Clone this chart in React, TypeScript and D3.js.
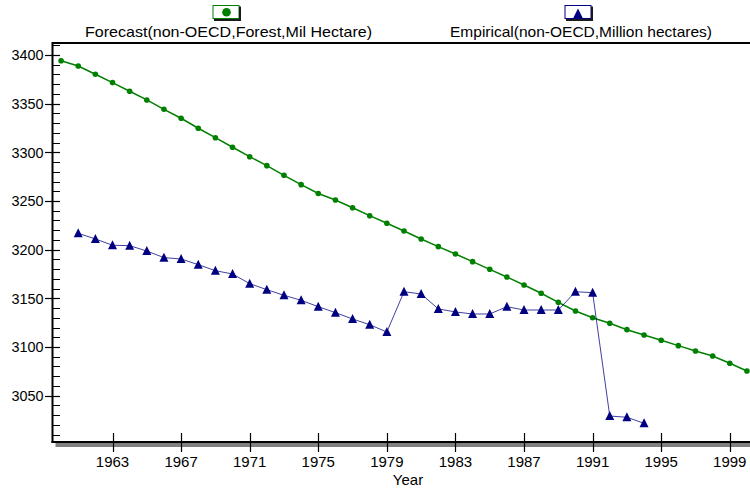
import React from "react";
import * as d3 from "d3";

const forecastYears = d3.range(1960, 2001);
const forecastValues = [
  3394.1, 3388.7, 3380.2, 3371.6, 3362.7, 3353.8, 3344.2, 3335.0, 3324.7, 3315.0,
  3305.2, 3295.5, 3286.3, 3276.4, 3266.8, 3257.7, 3251.0, 3243.1, 3234.9, 3227.1,
  3219.2, 3211.0, 3203.1, 3195.6, 3187.7, 3179.8, 3171.9, 3163.7, 3155.2, 3145.9,
  3137.0, 3130.1, 3124.4, 3117.8, 3112.4, 3106.9, 3101.4, 3095.9, 3090.8, 3083.3,
  3075.4,
];
const empiricalYears = d3.range(1961, 1995);
const empiricalValues = [
  3216.8, 3211.0, 3204.5, 3204.1, 3198.6, 3191.8, 3190.4, 3184.6, 3178.4, 3175.0,
  3165.1, 3158.9, 3153.1, 3148.0, 3141.4, 3135.3, 3128.8, 3122.9, 3115.4, 3156.8,
  3154.5, 3139.1, 3136.0, 3133.9, 3133.9, 3141.4, 3138.0, 3138.0, 3138.0, 3156.8,
  3155.8, 3029.1, 3027.8, 3021.6,
];
const xTickYears = [1963, 1967, 1971, 1975, 1979, 1983, 1987, 1991, 1995, 1999];
const yMajorTicks = [3050, 3100, 3150, 3200, 3250, 3300, 3350, 3400];
const yMinorTicks = d3.range(3010, 3411, 10);
const seriesNames = ["Forecast(non-OECD,Forest,Mil Hectare)", "Empirical(non-OECD,Million hectares)"];
const xLabel = "Year";

const GREEN = "#008000";
const NAVY = "#000080";
const FONT = "'Liberation Sans', Arial, sans-serif";

export default function App() {
  const W = 750, H = 490;
  const left = 52.5, top = 43, bottom = 442, right = 755.5;
  const x = d3.scaleLinear().domain([1959.5, 2000.5]).range([left, right]);
  const y = d3.scaleLinear().domain([3002.4, 3412.3]).range([bottom, top]);

  const fData = forecastYears.map((yr, i) => [yr, forecastValues[i]] as [number, number]);
  const eData = empiricalYears.map((yr, i) => [yr, empiricalValues[i]] as [number, number]);
  const line = d3.line<[number, number]>().x(d => x(d[0])).y(d => y(d[1]));

  const tri = (cx: number, cy: number, w = 9, h = 8) =>
    `M${cx},${cy - h / 2 - 1}L${cx + w / 2},${cy + h / 2}L${cx - w / 2},${cy + h / 2}Z`;

  return (
    <svg width={W} height={H} style={{ position: "absolute", left: 0, top: 0, background: "#fff" }}
      fontFamily={FONT}>
      <rect x={0} y={0} width={W} height={H} fill="#fff" />
      {/* legend */}
      <g>
        <rect x={213} y={5.5} width={26} height={13} fill="#fff" stroke={GREEN} strokeWidth={1} />
        <path d="M240,6.5V20H214" fill="none" stroke="#1a1a1a" strokeWidth={2} />
        <circle cx={226.5} cy={12.3} r={4.3} fill={GREEN} />
        <text x={85} y={37} fontSize={15} fill="#000" textLength={287} lengthAdjust="spacingAndGlyphs">{seriesNames[0]}</text>
        <rect x={565} y={5.5} width={26} height={13} fill="#fff" stroke={NAVY} strokeWidth={1} />
        <path d="M592,6.5V20H566" fill="none" stroke="#1a1a1a" strokeWidth={2} />
        <path d="M578,8.5L583,18.5L573,18.5Z" fill={NAVY} />
        <text x={450} y={37} fontSize={15} fill="#000" textLength={262} lengthAdjust="spacingAndGlyphs">{seriesNames[1]}</text>
      </g>
      {/* frame */}
      <rect x={left + 3} y={bottom + 1} width={W - left} height={4} fill="#808080" />
      <line x1={left} x2={W} y1={top} y2={top} stroke="#000" strokeWidth={2} />
      <line x1={left} x2={left} y1={top - 1} y2={bottom + 1} stroke="#000" strokeWidth={2} />
      <line x1={left - 1} x2={W} y1={bottom} y2={bottom} stroke="#000" strokeWidth={2.2} />
      {/* y ticks */}
      {yMinorTicks.map(v => (
        <line key={"mi" + v} x1={left} x2={left + 7.5} y1={Math.round(y(v)) + 0.5} y2={Math.round(y(v)) + 0.5}
          stroke="#000" strokeWidth={1} />
      ))}
      {yMajorTicks.map(v => (
        <g key={"ma" + v}>
          <line x1={left - 7.5} x2={left + 7.5} y1={Math.round(y(v)) + 0.5} y2={Math.round(y(v)) + 0.5}
            stroke="#000" strokeWidth={1.2} />
          <text x={43.5} y={y(v) + 5.5} textAnchor="end" fontSize={15} fill="#000" textLength={32} lengthAdjust="spacingAndGlyphs">{v}</text>
        </g>
      ))}
      {/* x ticks */}
      {xTickYears.map(v => (
        <g key={"x" + v}>
          <line x1={Math.round(x(v)) + 0.5} x2={Math.round(x(v)) + 0.5} y1={433} y2={452}
            stroke="#000" strokeWidth={1.2} />
          <text x={x(v)} y={467} textAnchor="middle" fontSize={15} fill="#000">{v}</text>
        </g>
      ))}
      <text x={408} y={485} textAnchor="middle" fontSize={15} fill="#000">{xLabel}</text>
      {/* series */}
      <path d={line(fData) || ""} fill="none" stroke={GREEN} strokeWidth={1.5} />
      {fData.map(d => (
        <circle key={"f" + d[0]} cx={x(d[0])} cy={y(d[1])} r={2.8} fill={GREEN} />
      ))}
      <path d={line(eData) || ""} fill="none" stroke={NAVY} strokeWidth={1} strokeOpacity={0.75} />
      {eData.map(d => (
        <path key={"e" + d[0]} d={tri(x(d[0]), y(d[1]))} fill={NAVY} />
      ))}
    </svg>
  );
}
